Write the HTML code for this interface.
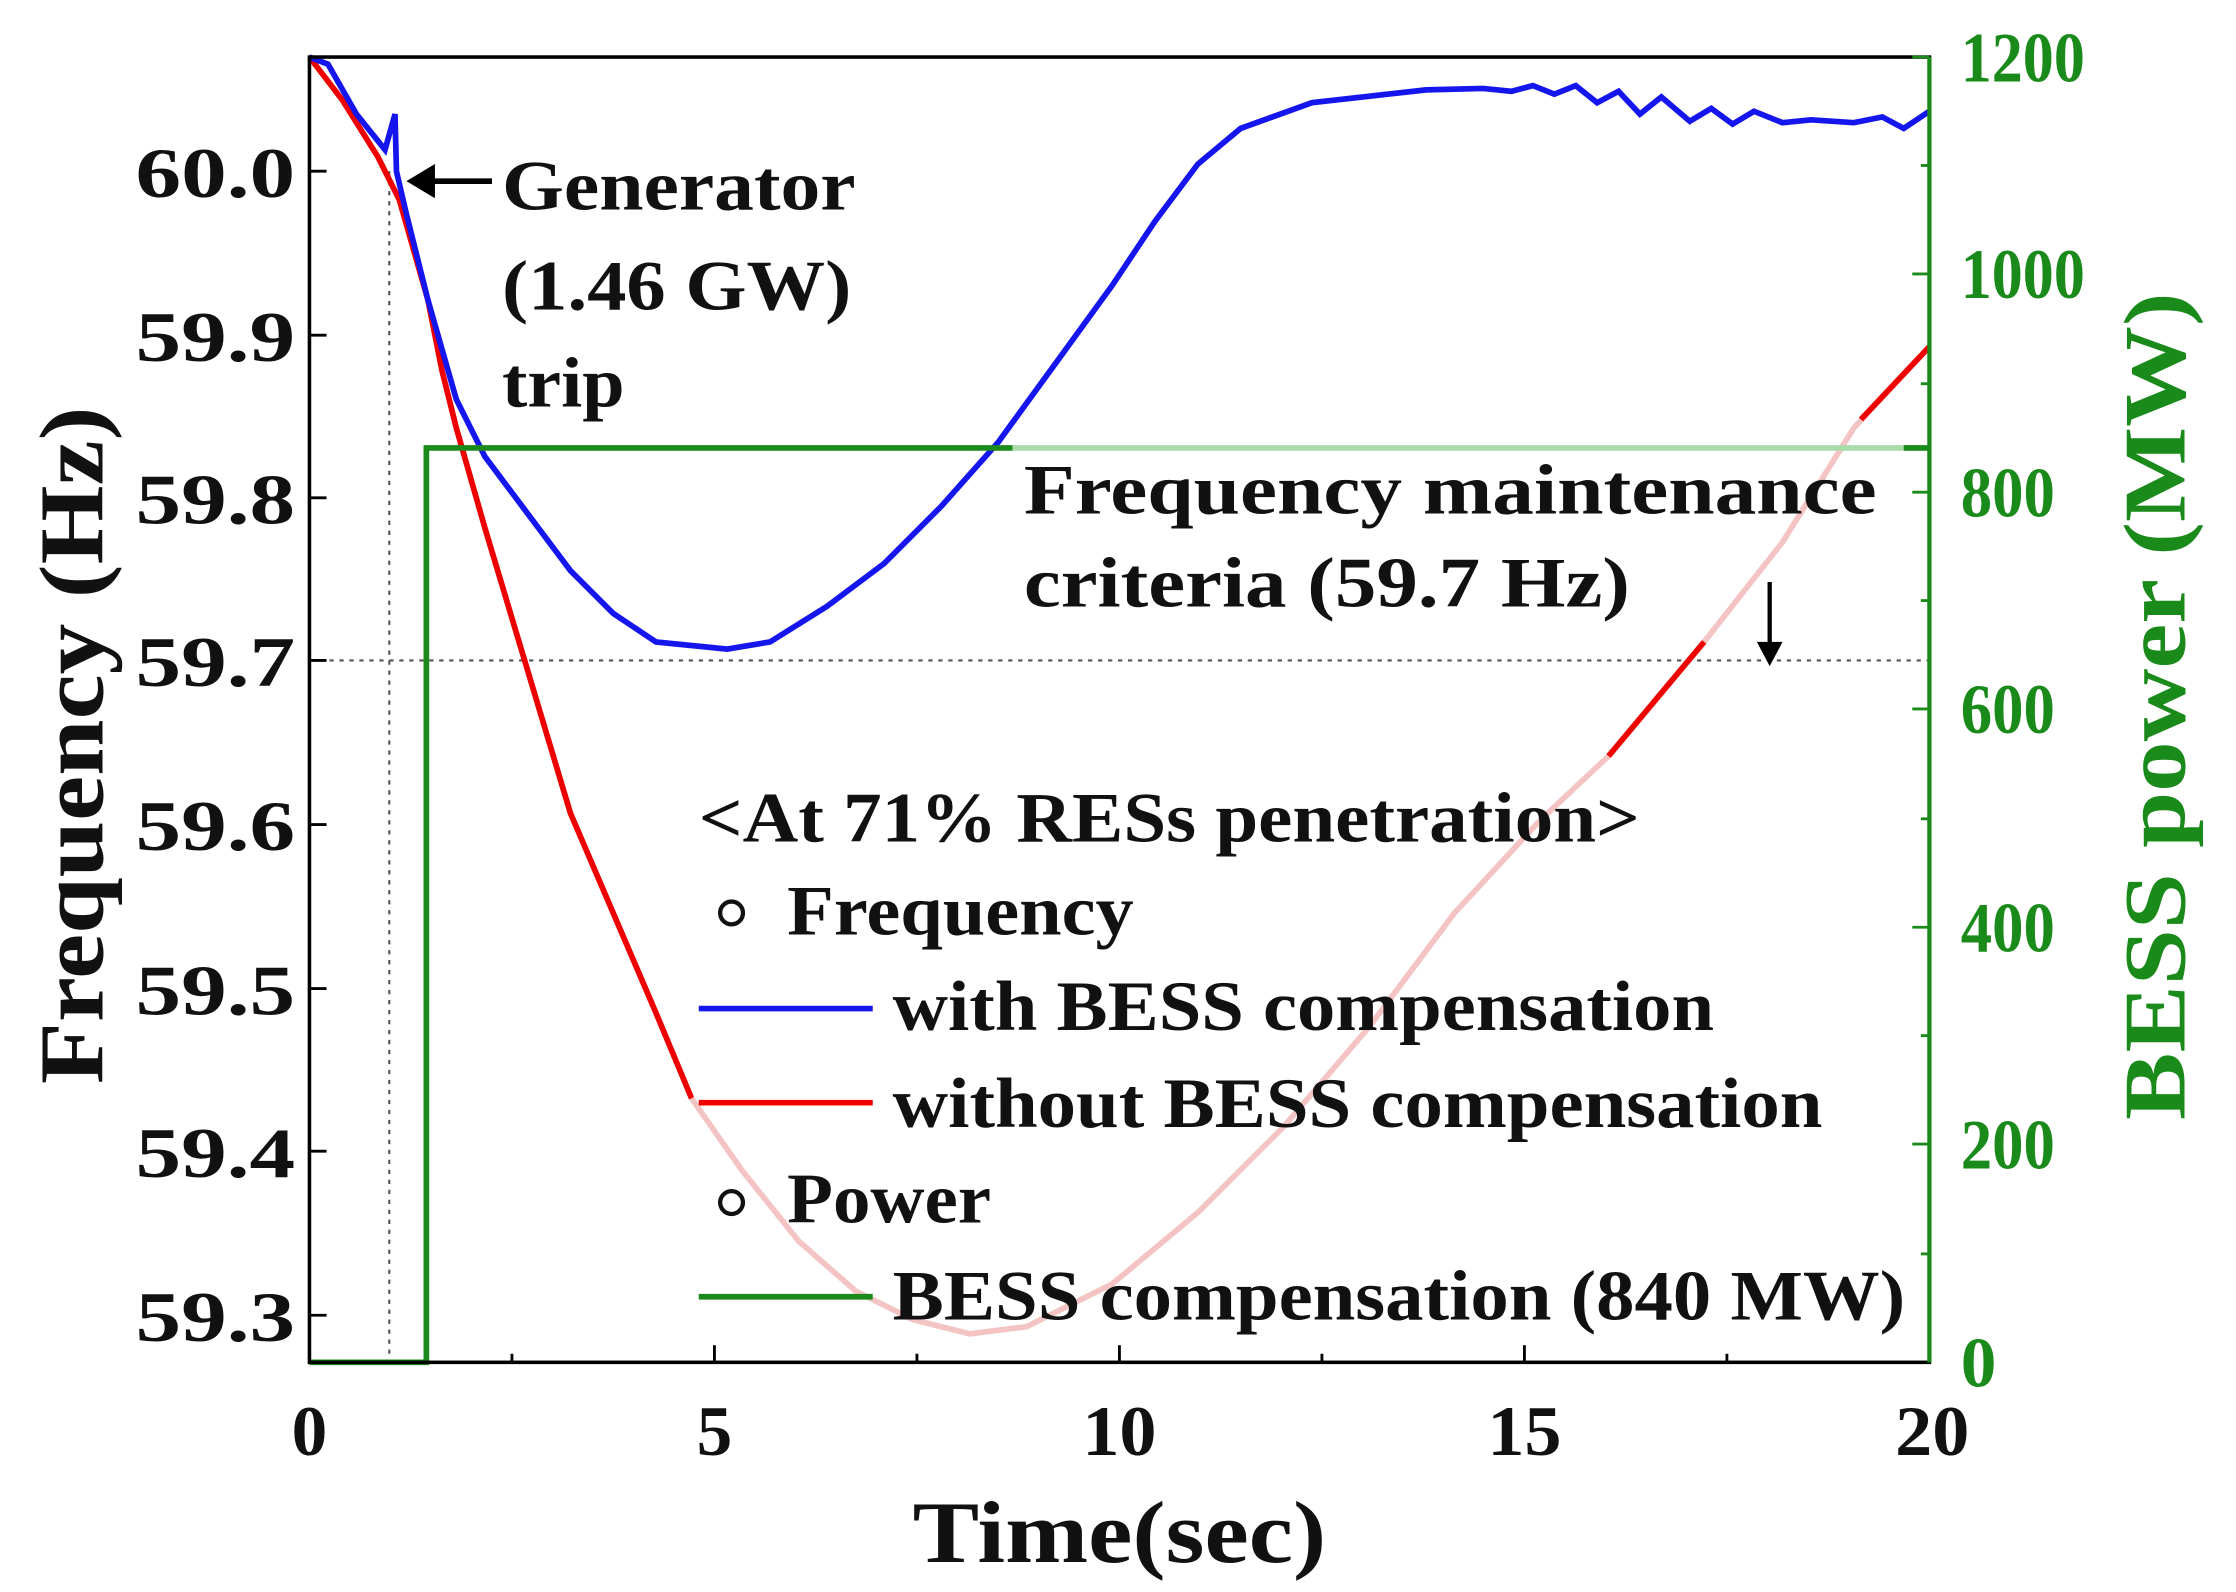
<!DOCTYPE html>
<html><head><style>html,body{margin:0;padding:0;background:#fff}svg{display:block}</style></head>
<body>
<svg width="2236" height="1592" viewBox="0 0 1568 1116" preserveAspectRatio="none" xmlns="http://www.w3.org/2000/svg" font-family="Liberation Serif, serif" font-weight="bold">
<line x1="273" y1="120" x2="273" y2="955" stroke="#555" stroke-width="1.5" stroke-dasharray="3,4"/>
<line x1="217" y1="463" x2="1353" y2="463" stroke="#555" stroke-width="1.5" stroke-dasharray="3,4"/>
<polyline fill="none" stroke="#e00" stroke-width="4" points="217,40 240,70 265,110 280,140 300,210 310,260 320,300 340,370 370,470 400,570 430,640 460,710 485,770"/>
<polyline fill="none" stroke="#f4c4c4" stroke-width="4" points="485,770 520,820 560,870 600,905 640,925 680,935 720,930 780,900 840,850 900,790 960,720 1020,640 1080,575 1128,530 1195,450 1250,380 1300,300 1353,243"/>
<polyline fill="none" stroke="#e00" stroke-width="4" points="1128,530 1195,450"/>
<polyline fill="none" stroke="#e00" stroke-width="4" points="1305,294 1353,243"/>
<polyline fill="none" stroke="#1515ee" stroke-width="4" points="217,40 230,45 250,80 270,105 277,80 278,120 285,150 300,210 320,280 340,320 370,360 400,400 430,430 460,450 510,455 540,450 580,425 620,395 660,355 700,310 740,255 780,200 810,155 840,115 870,90 920,72 1000,63 1040,62 1060,64 1075,60 1090,66 1105,60 1120,72 1135,64 1150,80 1165,68 1185,85 1200,76 1215,87 1230,78 1250,86 1270,84 1300,86 1320,82 1335,90 1353,78"/>
<polyline fill="none" stroke="#1a8a1a" stroke-width="4" points="217,955 299,955 299,314 710,314"/>
<line x1="710" y1="314" x2="1353" y2="314" stroke="#a8dca8" stroke-width="4"/>
<line x1="1335" y1="314" x2="1353" y2="314" stroke="#1a8a1a" stroke-width="4"/>
<rect x="217" y="40" width="1136" height="915" fill="none" stroke="#000" stroke-width="2.5"/>
<line x1="1353" y1="40" x2="1353" y2="955" stroke="#1a8a1a" stroke-width="3"/>
<g stroke="#000" stroke-width="2">
<line x1="217" y1="120" x2="229" y2="120"/><line x1="217" y1="235" x2="229" y2="235"/><line x1="217" y1="349" x2="229" y2="349"/><line x1="217" y1="463" x2="229" y2="463"/><line x1="217" y1="578" x2="229" y2="578"/><line x1="217" y1="693" x2="229" y2="693"/><line x1="217" y1="807" x2="229" y2="807"/><line x1="217" y1="922" x2="229" y2="922"/>
<line x1="501" y1="955" x2="501" y2="943"/><line x1="785" y1="955" x2="785" y2="943"/><line x1="1069" y1="955" x2="1069" y2="943"/>
<line x1="359" y1="955" x2="359" y2="949"/><line x1="643" y1="955" x2="643" y2="949"/><line x1="927" y1="955" x2="927" y2="949"/><line x1="1211" y1="955" x2="1211" y2="949"/>
</g>
<g stroke="#1a8a1a" stroke-width="2">
<line x1="1341" y1="40" x2="1353" y2="40"/><line x1="1341" y1="192" x2="1353" y2="192"/><line x1="1341" y1="345" x2="1353" y2="345"/><line x1="1341" y1="497" x2="1353" y2="497"/><line x1="1341" y1="650" x2="1353" y2="650"/><line x1="1341" y1="802" x2="1353" y2="802"/>
<line x1="1347" y1="116" x2="1353" y2="116"/><line x1="1347" y1="269" x2="1353" y2="269"/><line x1="1347" y1="421" x2="1353" y2="421"/><line x1="1347" y1="574" x2="1353" y2="574"/><line x1="1347" y1="726" x2="1353" y2="726"/><line x1="1347" y1="879" x2="1353" y2="879"/>
</g>
<g font-size="50" fill="#111" lengthAdjust="spacingAndGlyphs">
<text x="95" y="138" textLength="112" lengthAdjust="spacingAndGlyphs">60.0</text>
<text x="95" y="253" textLength="112" lengthAdjust="spacingAndGlyphs">59.9</text>
<text x="95" y="367" textLength="112" lengthAdjust="spacingAndGlyphs">59.8</text>
<text x="95" y="481" textLength="112" lengthAdjust="spacingAndGlyphs">59.7</text>
<text x="95" y="596" textLength="112" lengthAdjust="spacingAndGlyphs">59.6</text>
<text x="95" y="711" textLength="112" lengthAdjust="spacingAndGlyphs">59.5</text>
<text x="95" y="825" textLength="112" lengthAdjust="spacingAndGlyphs">59.4</text>
<text x="95" y="940" textLength="112" lengthAdjust="spacingAndGlyphs">59.3</text>
</g>
<g font-size="50" text-anchor="middle" fill="#111">
<text x="217" y="1020">0</text><text x="501" y="1020">5</text><text x="785" y="1020" textLength="52" lengthAdjust="spacingAndGlyphs">10</text><text x="1069" y="1020" textLength="52" lengthAdjust="spacingAndGlyphs">15</text><text x="1355" y="1020" textLength="52" lengthAdjust="spacingAndGlyphs">20</text>
</g>
<g font-size="50" fill="#1a8a1a">
<text x="1375" y="57" textLength="87" lengthAdjust="spacingAndGlyphs">1200</text><text x="1375" y="209" textLength="87" lengthAdjust="spacingAndGlyphs">1000</text><text x="1375" y="362" textLength="66" lengthAdjust="spacingAndGlyphs">800</text><text x="1375" y="514" textLength="66" lengthAdjust="spacingAndGlyphs">600</text><text x="1375" y="667" textLength="66" lengthAdjust="spacingAndGlyphs">400</text><text x="1375" y="819" textLength="66" lengthAdjust="spacingAndGlyphs">200</text><text x="1375" y="972">0</text>
</g>
<text x="640" y="1095" font-size="62" fill="#111" textLength="290" lengthAdjust="spacingAndGlyphs">Time(sec)</text>
<text transform="translate(72,760) rotate(-90)" font-size="64" fill="#111" textLength="475" lengthAdjust="spacingAndGlyphs">Frequency (Hz)</text>
<text transform="translate(1532,785) rotate(-90)" font-size="62" fill="#1a8a1a" textLength="580" lengthAdjust="spacingAndGlyphs">BESS power (MW)</text>
<g font-size="50" fill="#111">
<text x="352" y="147" textLength="248" lengthAdjust="spacingAndGlyphs">Generator</text>
<text x="352" y="217" textLength="245" lengthAdjust="spacingAndGlyphs">(1.46 GW)</text>
<text x="352" y="285" textLength="86" lengthAdjust="spacingAndGlyphs">trip</text>
<text x="718" y="360" textLength="598" lengthAdjust="spacingAndGlyphs">Frequency maintenance</text>
<text x="718" y="425" textLength="425" lengthAdjust="spacingAndGlyphs">criteria (59.7 Hz)</text>
<text x="490" y="590" textLength="660" lengthAdjust="spacingAndGlyphs">&lt;At 71% RESs penetration&gt;</text>
<text x="552" y="655" textLength="243" lengthAdjust="spacingAndGlyphs">Frequency</text>
<text x="626" y="722" textLength="576" lengthAdjust="spacingAndGlyphs">with BESS compensation</text>
<text x="626" y="790" textLength="652" lengthAdjust="spacingAndGlyphs">without BESS compensation</text>
<text x="552" y="857" textLength="143" lengthAdjust="spacingAndGlyphs">Power</text>
<text x="626" y="925" textLength="710" lengthAdjust="spacingAndGlyphs">BESS compensation (840 MW)</text>
</g>
<circle cx="513" cy="640" r="8" fill="none" stroke="#111" stroke-width="3"/>
<circle cx="513" cy="843" r="8" fill="none" stroke="#111" stroke-width="3"/>
<line x1="490" y1="707" x2="612" y2="707" stroke="#1515ee" stroke-width="4"/>
<line x1="490" y1="773" x2="612" y2="773" stroke="#e00" stroke-width="4"/>
<line x1="490" y1="909" x2="612" y2="909" stroke="#1a8a1a" stroke-width="4"/>
<line x1="345" y1="127" x2="295" y2="127" stroke="#000" stroke-width="4"/>
<polygon points="285,127 305,115 305,139" fill="#000"/>
<line x1="1241" y1="408" x2="1241" y2="455" stroke="#000" stroke-width="3"/>
<polygon points="1241,467 1232,450 1250,450" fill="#000"/>
</svg>
</body></html>
